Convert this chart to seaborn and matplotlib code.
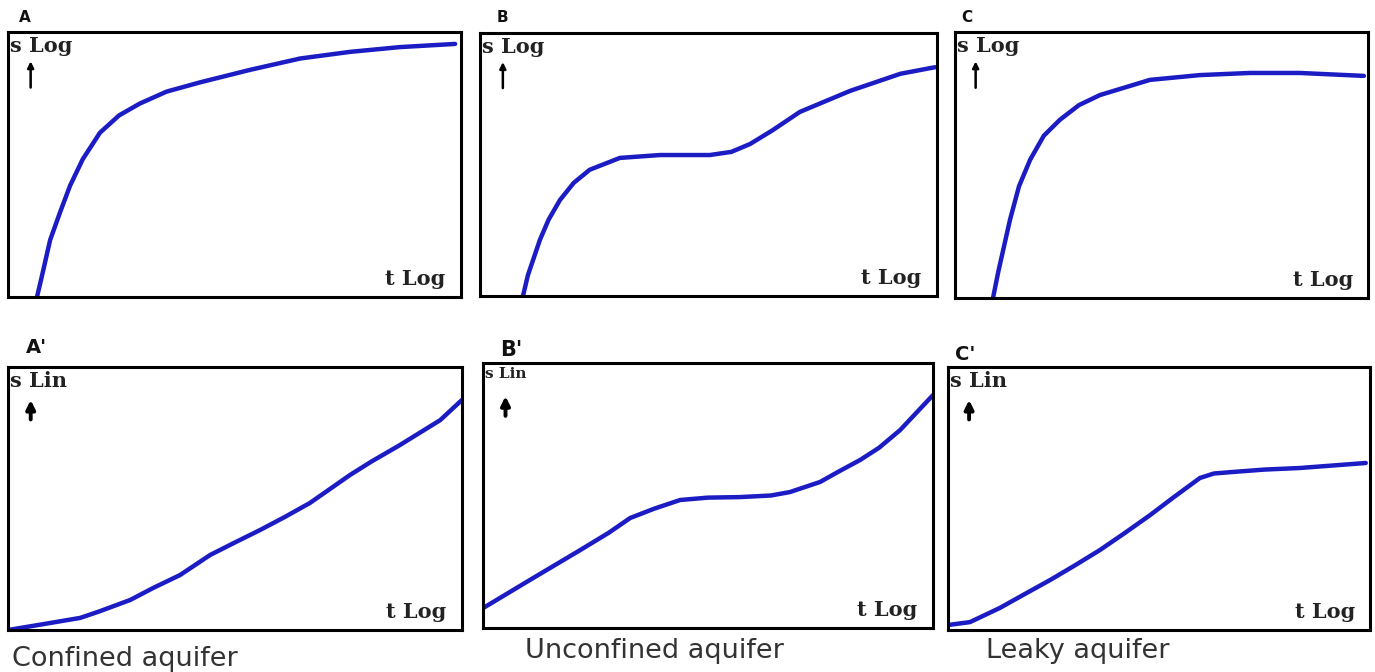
import matplotlib
matplotlib.use("Agg")
import matplotlib.pyplot as plt
import seaborn as sns
import pandas as pd

sns.set_style("white")

# ---- data (curve shapes, 0-100 scale in each panel) ----
a_x = [6.4, 7.5, 9.3, 11.5, 13.7, 16.5, 20.3, 24.5, 29.1, 35.0, 42.4, 53.4, 64.5, 75.5, 86.5, 98.7]
a_y = [0.0, 8.0, 21.5, 32.0, 42.0, 52.0, 62.0, 68.5, 73.0, 77.5, 81.0, 85.7, 90.0, 92.5, 94.3, 95.5]

b_x = [9.4, 10.5, 13.1, 15.0, 17.5, 20.5, 24.0, 30.6, 39.4, 50.3, 55.0, 59.1, 64.0, 70.0, 81.0, 92.0, 99.6]
b_y = [0.0, 8.0, 21.3, 29.0, 36.5, 43.0, 48.0, 52.5, 53.6, 53.6, 54.8, 57.8, 63.0, 70.0, 78.0, 84.5, 87.0]

c_x = [9.2, 10.5, 13.3, 15.5, 18.2, 21.5, 25.4, 30.0, 35.1, 47.2, 59.3, 71.4, 83.5, 99.0]
c_y = [0.0, 10.0, 29.3, 42.0, 52.0, 61.0, 67.0, 72.5, 76.3, 82.0, 83.8, 84.6, 84.6, 83.5]

a2_x = [0.0, 7.0, 15.9, 20.0, 26.9, 32.0, 37.9, 44.5, 50.0, 55.5, 61.0, 66.5, 75.3, 80.0, 86.3, 95.2, 100.0]
a2_y = [0.0, 2.0, 4.6, 7.0, 11.4, 16.0, 20.9, 28.5, 33.3, 38.0, 43.0, 48.3, 58.9, 64.0, 70.3, 79.8, 87.5]

b2_x = [0.0, 10.4, 21.6, 28.0, 32.7, 38.0, 43.8, 50.0, 57.1, 64.0, 68.2, 74.9, 79.0, 83.8, 88.0, 92.7, 100.0]
b2_y = [7.5, 18.1, 29.4, 36.0, 41.5, 45.0, 48.3, 49.2, 49.4, 50.0, 51.3, 55.1, 59.0, 63.4, 68.0, 74.7, 87.9]

c2_x = [0.5, 5.2, 8.5, 12.3, 18.0, 24.2, 30.0, 36.0, 42.0, 47.9, 53.5, 59.7, 63.0, 66.8, 75.0, 83.4, 99.0]
c2_y = [2.0, 3.0, 5.5, 8.4, 13.5, 19.0, 24.5, 30.4, 37.0, 43.7, 50.5, 57.8, 59.5, 60.0, 61.0, 61.6, 63.5]

panel_labels = ["A", "B", "C", "A'", "B'", "C'"]
y_labels = ["s Log", "s Log", "s Log", "s Lin", "s Lin", "s Lin"]
x_labels = ["t Log", "t Log", "t Log", "t Log", "t Log", "t Log"]
captions = ["Confined aquifer", "Unconfined aquifer", "Leaky aquifer"]

curves = [(a_x, a_y), (b_x, b_y), (c_x, c_y), (a2_x, a2_y), (b2_x, b2_y), (c2_x, c2_y)]

# ---- layout (pixel boxes: left, top, right, bottom) ----
W, H = 1375, 672
boxes = [(8, 32, 461, 297), (480, 33, 937, 296), (955, 32, 1368, 298),
         (8, 367, 462, 630), (483, 363, 933, 628), (948, 367, 1370, 630)]
label_pos = [(25, 17), (502, 18), (967, 18), (36, 347), (511, 350), (965, 354)]
label_size = [11, 11, 11, 14, 15, 14]
ylab_size = [15, 15, 15, 15, 11, 15]
caption_pos = [(125, 659), (654, 651), (1078, 651)]

fig = plt.figure(figsize=(W / 100, H / 100), dpi=100)
line_color = "#1c1cc4"

for i, (l, t, r, b) in enumerate(boxes):
    ax = fig.add_axes([l / W, 1 - b / H, (r - l) / W, (b - t) / H])
    x, y = curves[i]
    df = pd.DataFrame({"t": x, "s": y})
    sns.lineplot(data=df, x="t", y="s", ax=ax, color=line_color, linewidth=3.2,
                 sort=False, estimator=None)
    ax.set_xlim(0, 100)
    ax.set_ylim(0, 100)
    ax.set_xticks([])
    ax.set_yticks([])
    ax.set_xlabel("")
    ax.set_ylabel("")
    for sp in ax.spines.values():
        sp.set_visible(True)
        sp.set_color("black")
        sp.set_linewidth(2.2)
    ax.text(0.005, 0.985, y_labels[i], transform=ax.transAxes, ha="left", va="top",
            family="DejaVu Serif", fontweight="bold", fontsize=ylab_size[i], color="#222222")
    ax.annotate("", xy=(0.05, 0.90 if i < 3 else 0.885), xytext=(0.05, 0.78 if i < 3 else 0.79),
                xycoords="axes fraction",
                arrowprops=dict(arrowstyle="-|>", color="black",
                                lw=1.8 if i < 3 else 2.8, mutation_scale=9 if i < 3 else 13))
    ax.text(0.965, 0.03, x_labels[i], transform=ax.transAxes, ha="right", va="bottom",
            family="DejaVu Serif", fontweight="bold", fontsize=15, color="#222222")
    lx, ly = label_pos[i]
    fig.text(lx / W, 1 - ly / H, panel_labels[i], ha="center", va="center",
             family="DejaVu Sans", fontweight="bold", fontsize=label_size[i], color="#111111")

for (cx, cy), cap in zip(caption_pos, captions):
    fig.text(cx / W, 1 - cy / H, cap, ha="center", va="center",
             family="DejaVu Sans", fontsize=19.5, color="#333333")

fig.savefig("out.png", dpi=100, facecolor="white")
